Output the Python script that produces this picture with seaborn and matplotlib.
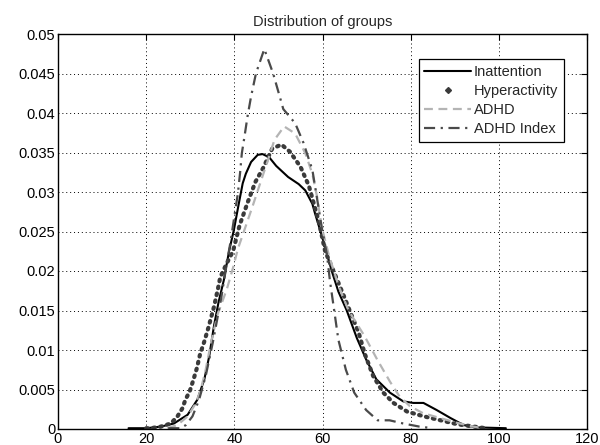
import matplotlib
matplotlib.use("Agg")
import matplotlib.pyplot as plt
from matplotlib.lines import Line2D
from matplotlib.ticker import FuncFormatter
import seaborn as sns

# ---- data ----
inatt_x = [16, 20, 23.3, 26.3, 29.4, 31.6, 33.2, 34.3, 35.4, 36.4, 37.6, 38.8, 39.9, 40.9,
           41.9, 42.6, 43.8, 45.3, 46.4, 47.9, 49.5, 52.2, 54.6, 56.1, 57.7, 58.3, 59.5,
           60.6, 62.1, 63.6, 65.5, 67.8, 69.9, 72.2, 75.3, 78.3, 80.6, 82.9, 85.9, 89.0,
           92.0, 95.1, 101.6]
inatt_y = [0.0001, 0.0001, 0.0003, 0.0007, 0.0018, 0.0037, 0.0063, 0.0092, 0.0131, 0.0160,
           0.0188, 0.0225, 0.0252, 0.0282, 0.0311, 0.0323, 0.0338, 0.0347, 0.0348, 0.0344,
           0.0333, 0.0319, 0.0310, 0.0302, 0.0285, 0.0273, 0.0251, 0.0230, 0.0200, 0.0174,
           0.0150, 0.0115, 0.0088, 0.0063, 0.0046, 0.0035, 0.0033, 0.0033, 0.0024, 0.0014,
           0.0005, 0.0002, 0.0001]

hyper_x = [20, 21.0, 23.3, 25.6, 27.1, 28.2, 28.9, 29.9, 30.7, 31.5, 32.2, 33.2, 34.1, 35.4,
           36.3, 36.8, 38.3, 39.7, 41.2, 43.1, 44.8, 46.5, 48.6, 50.7, 52.6, 55.0, 56.9,
           59.1, 60.6, 62.5, 64.8, 66.3, 68.2, 69.6, 71.5, 73.8, 76.1, 79.2, 83.0, 86.8,
           90.6, 94.4, 97]
hyper_y = [0.0001, 0.0001, 0.0003, 0.0007, 0.0016, 0.0026, 0.0037, 0.0048, 0.0062, 0.0077,
           0.0094, 0.0111, 0.0128, 0.0155, 0.0178, 0.0192, 0.0210, 0.0225, 0.0258, 0.0288,
           0.0313, 0.0330, 0.0355, 0.0360, 0.0351, 0.0332, 0.0308, 0.0264, 0.0225, 0.0200,
           0.0169, 0.0148, 0.0122, 0.0095, 0.0067, 0.0046, 0.0033, 0.0022, 0.0016, 0.0011,
           0.0006, 0.0003, 0.0001]

adhd_x = [24.8, 27.1, 29.4, 31.3, 32.4, 33.5, 34.7, 36.2, 38.3, 39.8, 40.8, 42.6, 44.2, 46.1,
          47.6, 49.1, 51.3, 53.8, 56.1, 57.7, 58.8, 59.8, 61.4, 63.6, 65.9, 69.5, 72.4,
          75.3, 77.5, 79.8, 82.8, 86.6, 90.4, 94.2, 96.5]
adhd_y = [0.0001, 0.0005, 0.0016, 0.0033, 0.0050, 0.0075, 0.0109, 0.0145, 0.0177, 0.0206,
          0.0228, 0.0257, 0.0283, 0.0315, 0.0340, 0.0366, 0.0383, 0.0374, 0.0349, 0.0323,
          0.0293, 0.0256, 0.0221, 0.0182, 0.0150, 0.0118, 0.0088, 0.0060, 0.0041, 0.0029,
          0.0020, 0.0014, 0.0008, 0.0003, 0.0001]

index_x = [25, 27.8, 29.0, 30.5, 32.0, 33.5, 35.1, 37.0, 38.3, 39.2, 40.0, 40.8, 41.3, 41.7,
           42.3, 43.0, 43.8, 44.9, 46.8, 48.8, 50.7, 51.1, 53.8, 55.7, 57.7, 58.7, 59.8,
           61.0, 61.7, 62.5, 63.6, 65.3, 67.2, 69.9, 72.5, 75.2, 78.3, 82, 85]
index_y = [0.0001, 0.0001, 0.0005, 0.0016, 0.0037, 0.0067, 0.0109, 0.0165, 0.0210, 0.0239,
           0.0269, 0.0298, 0.0324, 0.0349, 0.0370, 0.0396, 0.0421, 0.0450, 0.0481, 0.0450,
           0.0413, 0.0405, 0.0387, 0.0362, 0.0328, 0.0294, 0.0256, 0.0221, 0.0187, 0.0156,
           0.0113, 0.0075, 0.0046, 0.0024, 0.0011, 0.0011, 0.0007, 0.0003, 0.0001]

series_names = ["Inattention", "Hyperactivity", "ADHD", "ADHD Index"]
x_ticks = [0, 20, 40, 60, 80, 100, 120]
y_ticks = [0, 0.005, 0.01, 0.015, 0.02, 0.025, 0.03, 0.035, 0.04, 0.045, 0.05]
title = "Distribution of groups"

# ---- plotting ----
sns.set_theme(style="white")
plt.rcParams["font.family"] = ["Liberation Sans", "DejaVu Sans"]

fig = plt.figure(figsize=(6.0, 4.45), dpi=100)
ax = fig.add_axes([58 / 600, 16 / 445, 529 / 600, 395 / 445])

sns.lineplot(x=inatt_x, y=inatt_y, ax=ax, color="black", linewidth=1.5, estimator=None)
sns.lineplot(x=hyper_x, y=hyper_y, ax=ax, color="#3a3a3a", linewidth=3.0, estimator=None,
             linestyle=(0, (0.4, 1.3)), dash_capstyle="round")
sns.lineplot(x=adhd_x, y=adhd_y, ax=ax, color="#b4b4b4", linewidth=1.6, estimator=None,
             linestyle=(0, (4, 2.5)))
sns.lineplot(x=index_x, y=index_y, ax=ax, color="#4a4a4a", linewidth=1.6, estimator=None,
             linestyle=(0, (5, 2.5, 1, 2.5)))

ax.set_xlim(0, 120)
ax.set_ylim(0, 0.05)
ax.set_xticks(x_ticks)
ax.set_yticks(y_ticks)
ax.yaxis.set_major_formatter(FuncFormatter(lambda v, _: f"{v:g}"))
ax.tick_params(direction="in", length=4, width=0.8, colors="black", labelsize=10.5,
               top=True, right=True, pad=2)
ax.set_xlabel("")
ax.set_ylabel("")
for s in ax.spines.values():
    s.set_color("black")
    s.set_linewidth(1.0)
    s.set_visible(True)
ax.grid(True, color="black", linestyle=(0, (1, 3)), linewidth=0.7)
ax.set_facecolor("white")
ax.set_title(title, fontsize=10.5, pad=6)

handles = [
    Line2D([], [], color="black", linewidth=1.5),
    Line2D([], [], color="#3a3a3a", linestyle="none", marker="D", markersize=3),
    Line2D([], [], color="#b4b4b4", linewidth=1.6, linestyle=(0, (4, 2.5))),
    Line2D([], [], color="#4a4a4a", linewidth=1.6, linestyle=(0, (5, 2.5, 1, 2.5))),
]
leg = ax.legend(handles, series_names, loc="upper right", bbox_to_anchor=(0.957, 0.937),
                borderaxespad=0, fontsize=10.5, frameon=True, fancybox=False,
                edgecolor="black", framealpha=1, handlelength=3.2, handletextpad=0.2,
                labelspacing=0.35, borderpad=0.4)
leg.get_frame().set_linewidth(0.9)

fig.savefig("out.png", dpi=100, facecolor="white")
